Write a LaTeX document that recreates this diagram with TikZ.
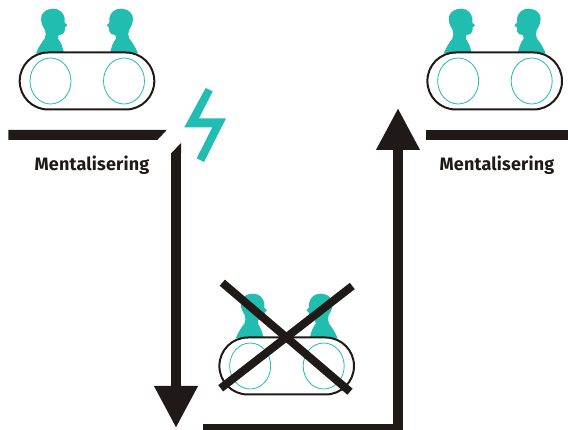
\documentclass[tikz,border=0pt]{standalone}
\usepackage{fontspec}
\setmainfont{Fira Sans}
\usetikzlibrary{arrows.meta}
\definecolor{teal1}{HTML}{21BDB0}
\definecolor{ink}{HTML}{1F1A17}
\tikzset{
  thickarrow/.style={draw=ink,line width=10pt,-{Triangle[length=42pt,width=41pt]}},
  barfill/.style={fill=ink,draw=none},
  label/.style={text=ink,font=\fontsize{18}{20}\selectfont\addfontfeature{LetterSpace=1}\bfseries,anchor=base,inner sep=0pt},
  person/.style={fill=teal1,draw=none},
  couple/.pic={
    \begin{scope}[x=0.3333pt,y=-0.3333pt,shift={(-261,-243)}]
      \foreach \s/\o in {1/0,-1/522}{
      \begin{scope}[xshift=\o*0.3333pt,xscale=\s]
      \path[person] (108,160) .. controls (116,140) and (126,126) .. (134,116)
        .. controls (138,108) and (138,100) .. (135,90)
        .. controls (126,76) and (120,62) .. (125,46)
        .. controls (131,32) and (146,26) .. (160,26)
        .. controls (178,26) and (191,38) .. (194,55) -- (194,68) -- (202,76) -- (195,82) -- (194,94)
        .. controls (192,102) and (185,105) .. (176,105) -- (174,116)
        .. controls (182,126) and (188,140) .. (192,160) -- cycle;
      \end{scope}}
    \end{scope}
    \draw[ink,line width=2pt,fill=white,rounded corners=28.4pt] (-67.3,-28.5) rectangle (67.3,28.5);
    \draw[teal1,line width=0.8pt] (-36.5,0) ellipse [x radius=20.5pt,y radius=23pt];
    \draw[teal1,line width=0.8pt] (37,0) ellipse [x radius=20.5pt,y radius=23pt];
  }
}
\begin{document}
\begin{tikzpicture}[x=1pt,y=-1pt]
\useasboundingbox (0,0) rectangle (568,430);
\clip (0,0) rectangle (568,430);
\pic (coupleA) at (87,81) {couple};
\pic (coupleB) at (494.7,81) {couple};
\pic (coupleC) at (286.7,366) {couple};
% cross
\draw[ink,line width=8pt] (222.3,282.7) -- (350,391.7);
\draw[ink,line width=8pt] (352.3,286) -- (220.7,388.3);
% bars
\path[barfill] (8.3,130) -- (166.7,130) -- (157.3,140) -- (8.3,140) -- cycle;
\path[barfill] (426,130) rectangle (568,140);
% labels
\node[label] (labelA) at (92,170.5) {Mentalisering};
\node[label] (labelB) at (497,170.5) {Mentalisering};
% bolt
\path[fill=teal1] (205.7,88) -- (212.7,91.3) -- (199,118.3) -- (226,118.3) -- (204,162) -- (196.7,158.3) -- (212.3,127.3) -- (184.3,127.3) -- cycle;
% arrows
\coordinate (downStart) at (176,153);
\coordinate (downEnd) at (176,428);
\coordinate (upStart) at (203,429);
\coordinate (upCorner) at (398,429);
\coordinate (upEnd) at (398,108);
\path[barfill] (171,153.5) -- (181,143) -- (181,153.5) -- cycle;
\draw[thickarrow] (downStart) -- (downEnd);
\draw[thickarrow] (upStart) -- (upCorner) -- (upEnd);
\end{tikzpicture}
\end{document}
